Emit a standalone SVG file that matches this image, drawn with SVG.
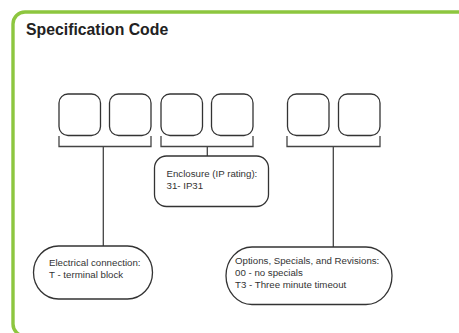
<svg xmlns="http://www.w3.org/2000/svg" width="459" height="333" viewBox="0 0 459 333">
<style>
.frame{fill:none;stroke:#8dc63f;stroke-width:3.4}
.box{fill:#fff;stroke:#333;stroke-width:1.3}
.br{fill:none;stroke:#444;stroke-width:1.3}
.t{font-family:"Liberation Sans",Arial,sans-serif;font-size:9.7px;fill:#333}
.title{font-family:"Liberation Sans",Arial,sans-serif;font-size:15.8px;font-weight:bold;fill:#222}
</style>
<rect width="459" height="333" fill="#fff"/>
<rect class="frame" x="13" y="12" width="470" height="324" rx="12" ry="12"/>
<text class="title" x="26" y="35">Specification Code</text>
<g id="connectors">
<path class="br" d="M59,136V146.5H151V136M103.3,146.5V246"/>
<path class="br" d="M161,136V146.5H253V136M207.3,146.5V156"/>
<path class="br" d="M287,136V146.5H380V136M333.3,146.5V247"/>
</g>
<g id="digit1"><rect class="box" x="59" y="94" width="41.5" height="41.5" rx="9"/></g>
<g id="digit2"><rect class="box" x="109.5" y="94" width="41.5" height="41.5" rx="9"/></g>
<g id="digit3"><rect class="box" x="161" y="94" width="41.5" height="41.5" rx="9"/></g>
<g id="digit4"><rect class="box" x="211.5" y="94" width="41.5" height="41.5" rx="9"/></g>
<g id="digit5"><rect class="box" x="287.5" y="94" width="41.5" height="41.5" rx="9"/></g>
<g id="digit6"><rect class="box" x="338.5" y="94" width="41.5" height="41.5" rx="9"/></g>
<g id="enclosure">
<rect class="box" x="154.5" y="156" width="114" height="50.5" rx="12"/>
<text class="t" x="166.5" y="177">Enclosure (IP rating):</text>
<text class="t" x="166.5" y="189">31- IP31</text>
</g>
<g id="electrical">
<rect class="box" x="33.5" y="246" width="119" height="53" rx="25" ry="26.5"/>
<text class="t" x="49" y="266">Electrical connection:</text>
<text class="t" x="49" y="278">T - terminal block</text>
</g>
<g id="options">
<rect class="box" x="226" y="247" width="166" height="57.5" rx="26" ry="28.75"/>
<text class="t" x="235" y="264">Options, Specials, and Revisions:</text>
<text class="t" x="235" y="276">00 - no specials</text>
<text class="t" x="235" y="288">T3 - Three minute timeout</text>
</g>
</svg>
